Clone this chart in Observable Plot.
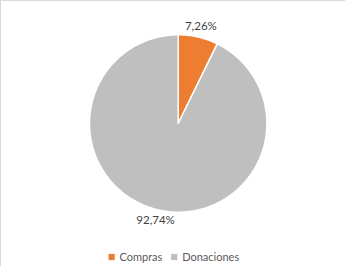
<!DOCTYPE html>
<html><head><meta charset="utf-8">
<script src="https://cdn.jsdelivr.net/npm/d3@7"></script>
<script src="https://cdn.jsdelivr.net/npm/@observablehq/plot@0.6"></script>
<style>
body{margin:0;background:#fff}
#chart svg{display:block;border-top:1px solid #d9d9d9;border-left:1px solid #d9d9d9}
</style>
</head><body><div id="chart"></div>
<script>
const categories = ["Compras", "Donaciones"];
const values = [7.26, 92.74];
const labels = ["7,26%", "92,74%"];
const colors = ["#ED7D31", "#BFBFBF"];

const W = 344, H = 265;
const cx = 176.7, cy = 122, R = 88.7;

const arcs = d3.pie().sort(null).value(d => d.value)(categories.map((c, i) => ({name: c, value: values[i], label: labels[i]})));

const pts = [];
for (const a of arcs) {
  pts.push({name: a.data.name, x: 0, y: 0});
  const n = Math.max(2, Math.ceil((a.endAngle - a.startAngle) / (Math.PI / 180)));
  for (let k = 0; k <= n; k++) {
    const t = a.startAngle + (a.endAngle - a.startAngle) * k / n;
    pts.push({name: a.data.name, x: Math.sin(t), y: Math.cos(t)});
  }
  pts.push({name: a.data.name, x: 0, y: 0});
}
const lab = arcs.map(a => {
  const m = (a.startAngle + a.endAngle) / 2;
  return {text: a.data.label, x: 1.13 * Math.sin(m), y: 1.12 * Math.cos(m)};
});
const legY = (cy - 255.5) / R;
const leg = categories.map((c, i) => ({name: c, sx: i === 0 ? -0.75 : -0.045, tx: i === 0 ? -0.662 : 0.045}));

const chart = Plot.plot({
  width: W, height: H, margin: 0,
  style: {fontFamily: "Lato, 'Open Sans', sans-serif", fontSize: "11px", background: "#fff"},
  x: {domain: [-cx / R, (W - cx) / R], axis: null},
  y: {domain: [-(H - cy) / R, cy / R], axis: null},
  color: {domain: categories, range: colors},
  marks: [
    Plot.line(pts, {x: "x", y: "y", z: "name", fill: "name", stroke: "#fff", strokeWidth: 1.5, strokeLinejoin: "round", curve: "linear"}),
    Plot.text(lab, {x: "x", y: "y", text: "text", fill: "#404040", fontSize: 11.5}),
    Plot.dot(leg, {x: "sx", y: () => legY, symbol: "square", r: 3.5, fill: "name", stroke: null}),
    Plot.text(leg, {x: "tx", y: () => legY, text: "name", textAnchor: "start", fill: "#595959", fontSize: 11})
  ]
});
document.getElementById("chart").appendChild(chart);
</script></body></html>
